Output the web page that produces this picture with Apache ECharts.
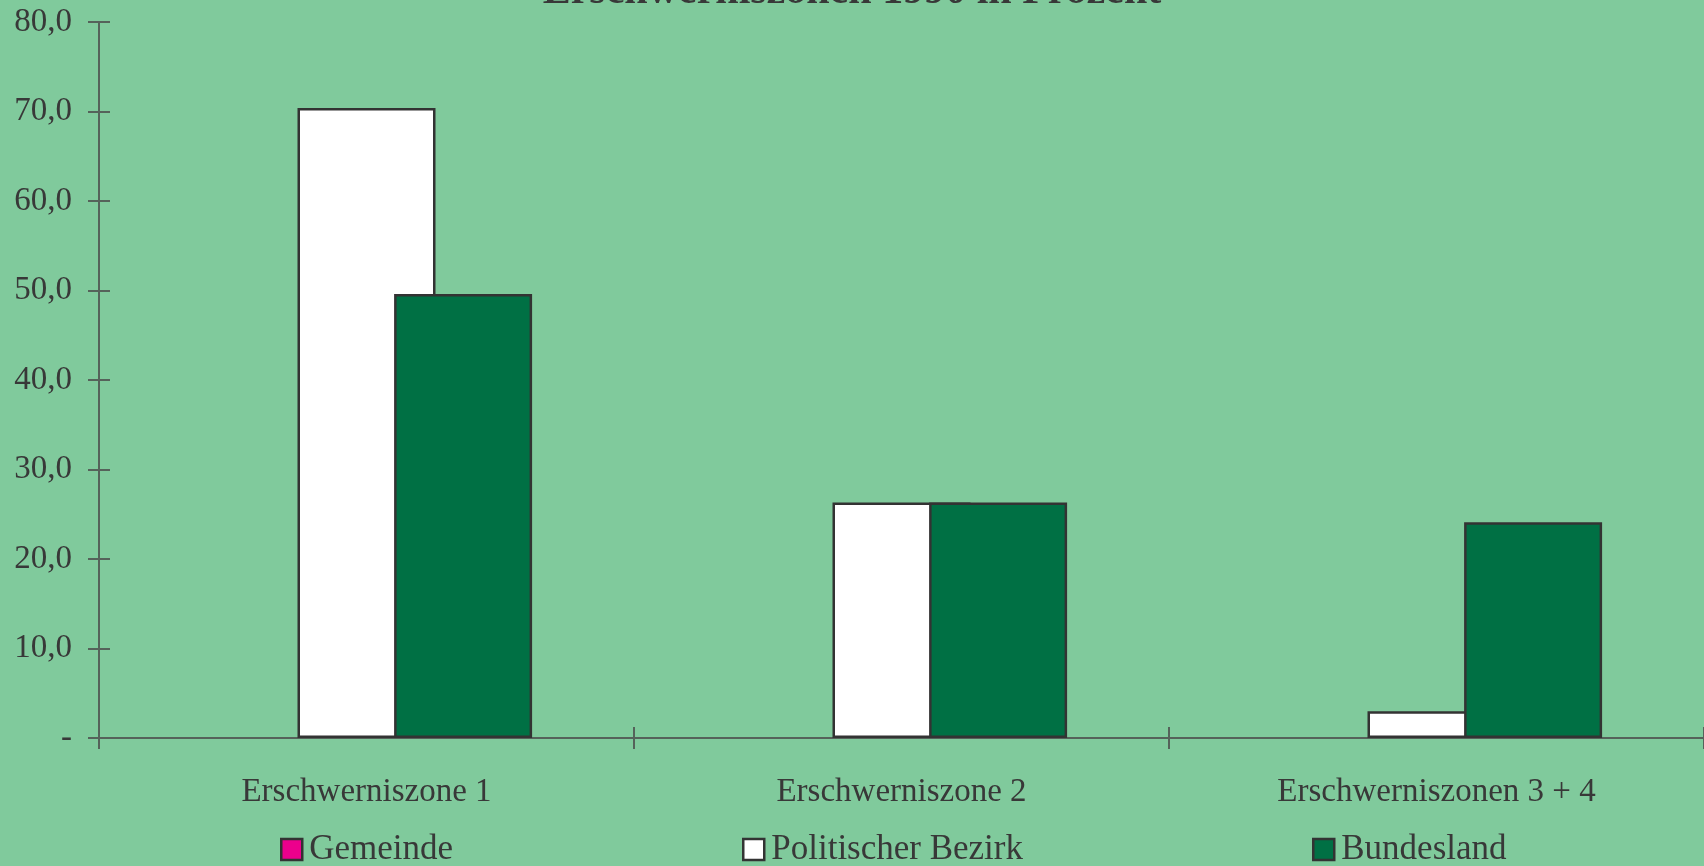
<!DOCTYPE html>
<html>
<head>
<meta charset="utf-8">
<script src="https://cdn.jsdelivr.net/npm/echarts@6/dist/echarts.min.js"></script>
<style>
	html, body { margin: 0; padding: 0; background: #80ca9c; }
	#chart { width: 1704px; height: 866px; }
</style>
</head>
<body>
<div id="chart"></div>
<script>
	var categories = ['Erschwerniszone 1', 'Erschwerniszone 2', 'Erschwerniszonen 3 + 4'];
	var gemeinde = [null, null, null];
	var bezirk = [70.4, 26.3, 3.0];
	var bundesland = [49.6, 26.3, 24.1];
	var seriesNames = ['Gemeinde', 'Politischer Bezirk', 'Bundesland'];

	var font = 'Liberation Serif, Times New Roman, serif';
	var textColor = '#383838';
	var lineColor = '#55625a';

	var chart = echarts.init(document.getElementById('chart'));

	// legend items sit apart, one legend each
	function legendItem(name, left){
		return {
			data: [{ name: name, icon: 'rect' }],
			left: left,
			top: 832,
			itemWidth: 21,
			itemHeight: 21,
			itemGap: 8,
			padding: 0,
			itemStyle: { borderColor: '#333', borderWidth: 2.5 },
			textStyle: { fontFamily: font, fontSize: 35, color: textColor, padding: [0, 0, 0, 2] }
		};
	}

	function barSeries(name, data, color){
		return {
			name: name,
			type: 'bar',
			data: data,
			barWidth: 138,
			barGap: '-30%',
			itemStyle: { color: color, borderColor: '#333', borderWidth: 2.5 }
		};
	}

	var option = {
		backgroundColor: '#80ca9c',
		animation: false,
		title: {
			text: 'Erschwerniszonen 1990 in Prozent',
			left: 'center',
			top: -34,
			textStyle: { fontFamily: font, fontSize: 42, fontWeight: 'bold', color: textColor }
		},
		legend: [
			legendItem(seriesNames[0], 280),
			legendItem(seriesNames[1], 742),
			legendItem(seriesNames[2], 1312)
		],
		grid: { left: 99, top: 22, width: 1615, height: 716, containLabel: false },
		xAxis: [
			{
				type: 'category',
				data: categories,
				axisLine: { lineStyle: { color: lineColor, width: 2 } },
				axisTick: { show: true, length: 11, lineStyle: { color: lineColor, width: 2 } },
				axisLabel: { fontFamily: font, fontSize: 33, color: textColor, margin: 38 }
			},
			{
				type: 'category',
				data: categories,
				position: 'bottom',
				axisLine: { show: false },
				axisTick: { show: true, inside: true, length: 11, lineStyle: { color: lineColor, width: 2 } },
				axisLabel: { show: false }
			}
		],
		yAxis: [
			{
				type: 'value',
				min: 0,
				max: 80,
				interval: 10,
				splitLine: { show: false },
				axisLine: { show: true, lineStyle: { color: lineColor, width: 2 } },
				axisTick: { show: true, length: 11, lineStyle: { color: lineColor, width: 2 } },
				axisLabel: {
					fontFamily: font, fontSize: 33, color: textColor, margin: 27,
					formatter: function(v){
						if(v === 0)
							return '-';
						return v.toFixed(1).replace('.', ',');
					}
				}
			},
			{
				type: 'value',
				min: 0,
				max: 80,
				interval: 10,
				position: 'left',
				splitLine: { show: false },
				axisLine: { show: false },
				axisTick: { show: true, inside: true, length: 11, lineStyle: { color: lineColor, width: 2 } },
				axisLabel: { show: false }
			}
		],
		series: [
			barSeries(seriesNames[0], gemeinde, '#ec008c'),
			barSeries(seriesNames[1], bezirk, '#ffffff'),
			barSeries(seriesNames[2], bundesland, '#007044')
		]
	};

	chart.setOption(option);
</script>
</body>
</html>
